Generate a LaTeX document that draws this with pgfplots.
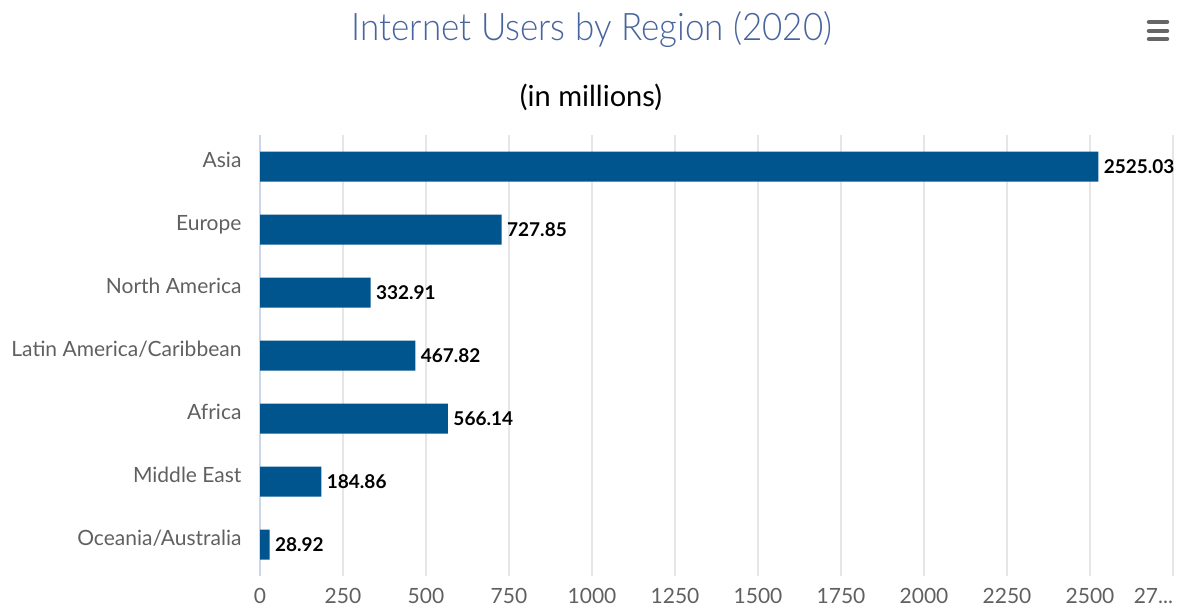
\documentclass[border=0pt]{standalone}
\usepackage{fontspec}
\setmainfont{Lato}
\newfontfamily\titlefont{Lato Light}[FakeStretch=0.92]
\usepackage{pgfplots}
\pgfplotsset{compat=1.18}

\definecolor{barblue}{RGB}{0,85,143}
\definecolor{labelgrey}{RGB}{96,96,96}
\definecolor{gridgrey}{RGB}{230,230,230}
\definecolor{axisline}{RGB}{204,214,235}
\definecolor{titlecol}{RGB}{72,100,158}
\definecolor{menugrey}{RGB}{102,102,102}

% internet users in millions, 2020
\pgfplotstableread{
idx value
0 2525.03
1 727.85
2 332.91
3 467.82
4 566.14
5 184.86
6 28.92
}\regiondata

\begin{document}
\begin{tikzpicture}[x=1pt,y=1pt]
\path[use as bounding box] (0,0) rectangle (1178,611);

\node[font=\titlefont\fontsize{38}{44}\selectfont, text=titlecol] at (592,581) {Internet Users by Region (2020)};
\node[font=\fontsize{29}{34}\selectfont] at (591,514) {(in millions)};

% menu button
\foreach \yy in {589,580,572}
  \draw[menugrey, line width=4.5pt, line cap=round] (1149,\yy) -- (1167,\yy);

\begin{axis}[
    at={(260pt,35pt)}, anchor=south west,
    width=913pt, height=441pt, scale only axis,
    xbar, bar width=30pt,
    xmin=0, xmax=2750,
    ymin=-0.5, ymax=6.5, y dir=reverse,
    ytick={0,...,6},
    yticklabels={Asia,Europe,North America,Latin America/Caribbean,Africa,Middle East,Oceania/Australia},
    xtick={0,250,...,2750},
    xticklabels={0,250,500,750,1000,1250,1500,1750,2000,2250,2500,\makebox[0pt][r]{27...}},
    axis lines*=left,
    x axis line style={draw=none},
    y axis line style={axisline, line width=1.5pt},
    xmajorgrids,
    major grid style={gridgrey, line width=1.5pt},
    major tick length=0pt,
    tick label style={font=\fontsize{21}{24}\selectfont, text=labelgrey},
    xticklabel style={yshift=-9pt},
    yticklabel style={anchor=base east, xshift=-15pt, yshift=-1pt},
    /pgf/number format/assume math mode=true,
    nodes near coords={\pgfmathprintnumber[fixed, fixed zerofill, precision=2, 1000 sep={}]{\pgfplotspointmeta}},
    every node near coord/.append style={font=\bfseries\fontsize{19}{22}\selectfont, text=black, xshift=2pt},
    clip=false,
]
\addplot[draw=none, fill=barblue] table[x=value, y=idx] {\regiondata};
\end{axis}
\end{tikzpicture}
\end{document}
